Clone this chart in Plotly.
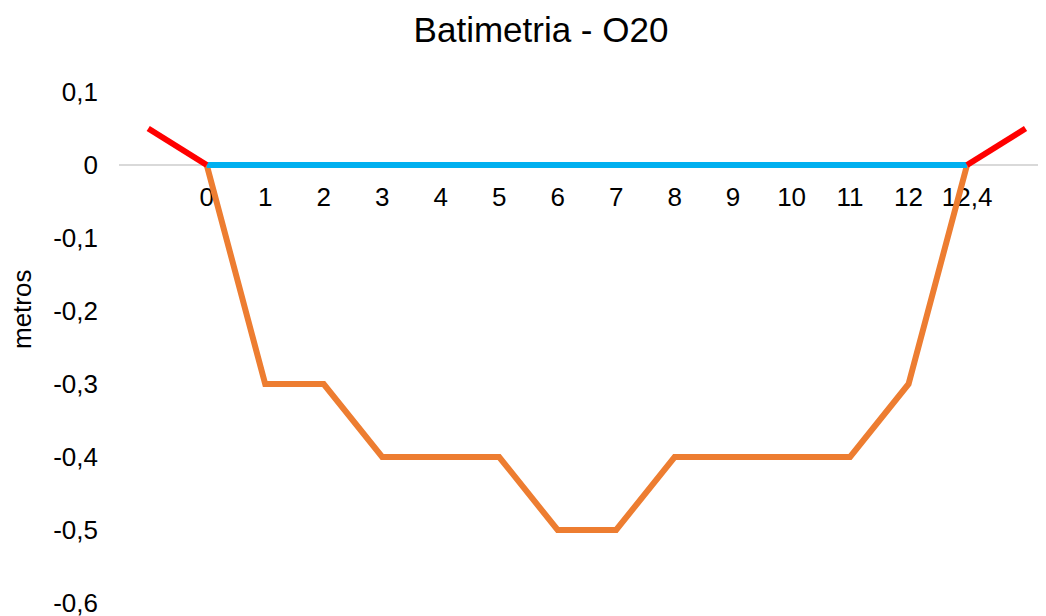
import plotly.graph_objects as go

# categories along the section (blank slots at both ends for the banks)
categories = ["", "0", "1", "2", "3", "4", "5", "6", "7", "8", "9", "10", "11", "12", "12,4", ""]
depth = [None, 0, -0.3, -0.3, -0.4, -0.4, -0.4, -0.5, -0.5, -0.4, -0.4, -0.4, -0.4, -0.3, 0, None]
water = [None, 0, 0, 0, 0, 0, 0, 0, 0, 0, 0, 0, 0, 0, 0, None]
banks = [0.05, 0, None, None, None, None, None, None, None, None, None, None, None, None, 0, 0.05]
y_ticks = [0.1, 0, -0.1, -0.2, -0.3, -0.4, -0.5, -0.6]
y_tick_labels = ["0,1", "0", "-0,1", "-0,2", "-0,3", "-0,4", "-0,5", "-0,6"]

x = list(range(len(categories)))
font = "Liberation Sans, Arial, sans-serif"

# page body has an 8px margin, so the figure is a bit smaller and shifted
W, H = 1038, 608
L, T, B = 111, 84, 13
plot_w = W - L
plot_h = H - T - B

fig = go.Figure()
fig.add_trace(go.Scatter(x=x, y=depth, mode="lines", line=dict(color="#ED7D31", width=6),
                         name="Fundo"))
fig.add_trace(go.Scatter(x=x, y=water, mode="lines", line=dict(color="#00B0F0", width=6),
                         name="Nível"))
fig.add_trace(go.Scatter(x=x, y=banks, mode="lines", line=dict(color="#FF0000", width=6),
                         name="Margens"))

fig.update_layout(
    width=W, height=H,
    margin=dict(l=L, r=0, t=T, b=B, autoexpand=False),
    paper_bgcolor="white", plot_bgcolor="white",
    showlegend=False,
    font=dict(family=font, size=26, color="#000000"),
    title=dict(text="Batimetria - O20", x=533 / W, xanchor="center", xref="container",
               y=1 - 22 / H, yanchor="middle", yref="container",
               font=dict(family=font, size=35, color="#000000")),
    xaxis=dict(
        range=[-0.5, 15.35], tickvals=x, ticktext=categories,
        anchor="free", position=0.6 / 0.7,
        showline=True, linecolor="#D9D9D9", linewidth=2, layer="below traces",
        showgrid=False, zeroline=False, ticks="", ticklabelstandoff=9,
        tickfont=dict(size=26),
    ),
    yaxis=dict(
        range=[-0.6, 0.1], tickvals=y_ticks, ticktext=y_tick_labels,
        showgrid=False, zeroline=False, showline=False, ticks="",
        ticklabelstandoff=20, tickfont=dict(size=26), ticklabeloverflow="allow",
    ),
    annotations=[dict(text="metros", textangle=-90, xref="paper", yref="paper",
                      x=-97 / plot_w, y=(595 - 302) / plot_h, xanchor="center", yanchor="middle",
                      showarrow=False, font=dict(size=26))],
)

fig.write_html("out.html")
